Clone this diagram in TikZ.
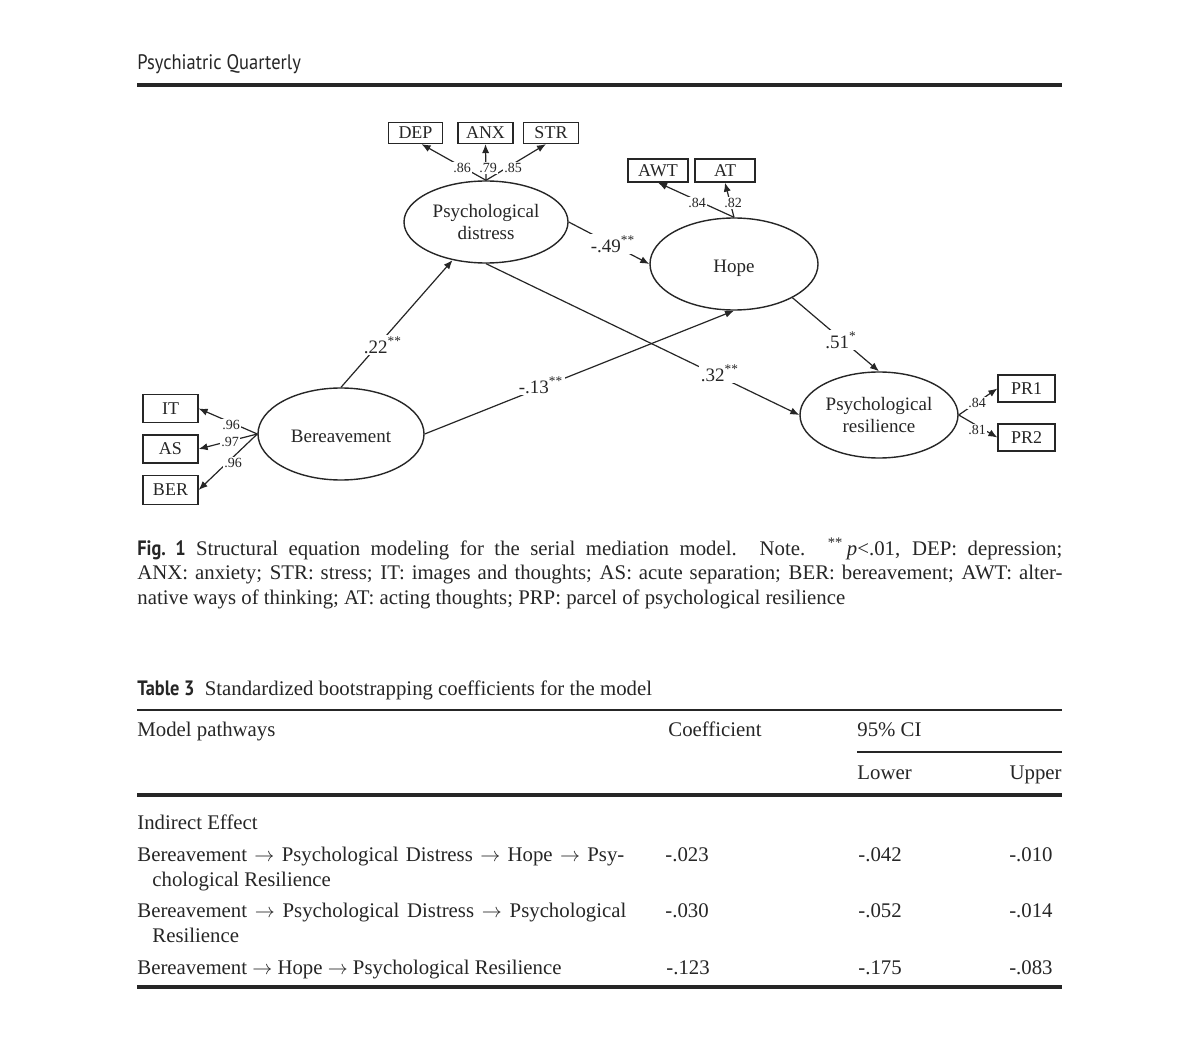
\documentclass[tikz,border=0pt]{standalone}
\usepackage{fontspec}
\setmainfont{Liberation Serif}
\newfontfamily\hdr[FakeStretch=0.88]{PT Sans}
\usetikzlibrary{shapes.geometric,arrows.meta,calc}
\definecolor{ink}{HTML}{262626}
\begin{document}
\begin{tikzpicture}[x=0.5pt,y=-0.5pt,
  every node/.style={text=ink},
  lat/.style={ellipse,draw=ink,line width=0.7pt,inner sep=0pt,align=center,font=\fontsize{9.5}{11}\selectfont},
  obs/.style={rectangle,draw=ink,line width=0.6pt,inner sep=0pt,font=\fontsize{9}{10}\selectfont},
  arr/.style={draw=ink,line width=0.6pt,-{Latex[length=4.5pt,width=3.6pt]}},
  coef/.style={fill=white,inner sep=1pt,font=\fontsize{9.5}{10}\selectfont},
  load/.style={fill=white,inner sep=0.6pt,font=\fontsize{7}{8}\selectfont},
  txt/.style={anchor=base west,inner sep=0pt,font=\fontsize{10.4}{12.5}\selectfont},
  txte/.style={anchor=base east,inner sep=0pt,font=\fontsize{10.4}{12.5}\selectfont},
  tabrule/.style={draw=ink,line width=1.4pt}
]
\fill[white] (0,0) rectangle (1200,1064);
\useasboundingbox (0,0) rectangle (1200,1064);

% header
\node[anchor=base west,inner sep=0pt,font=\hdr\fontsize{10.5}{12}\selectfont] (journal) at (137,70) {Psychiatric Quarterly};
\draw[ink,line width=2pt] (137,85) -- (1062,85);

% observed indicators
\node[obs,minimum width=27pt,minimum height=10.5pt] (dep) at (415.5,133) {DEP};
\node[obs,minimum width=27.5pt,minimum height=10.5pt] (anx) at (485.5,133) {ANX};
\node[obs,minimum width=27.5pt,minimum height=10.5pt] (str) at (551,133) {STR};
\node[obs,minimum width=30pt,minimum height=11.5pt] (awt) at (658,170.5) {AWT};
\node[obs,minimum width=30pt,minimum height=11.5pt] (atn) at (725,170.5) {AT};
\node[obs,minimum width=27.5pt,minimum height=14pt] (it) at (170.5,408.5) {IT};
\node[obs,minimum width=27.5pt,minimum height=14pt] (as) at (170.5,449) {AS};
\node[obs,minimum width=27.5pt,minimum height=14.5pt] (ber) at (170.5,490) {BER};
\node[obs,minimum width=28.5pt,minimum height=13.5pt] (pr1) at (1026.5,388.5) {PR1};
\node[obs,minimum width=28.5pt,minimum height=13.5pt] (pr2) at (1026.5,437.5) {PR2};

% latent variables
\node[lat,minimum width=82pt,minimum height=41pt] (dist) at (486,222) {Psychological\\distress};
\node[lat,minimum width=84pt,minimum height=46pt,text height=9pt,text depth=0pt] (hope) at (734,264) {Hope};
\node[lat,minimum width=83pt,minimum height=46pt,text height=8.5pt,text depth=0pt] (bere) at (341,434) {Bereavement};
\node[lat,minimum width=79pt,minimum height=43pt] (res) at (879,415) {Psychological\\resilience};

% structural paths
\draw[arr] (bere.north) -- (dist);
\draw[arr] (dist.east) -- (hope.west);
\draw[arr] (dist.south) -- (res.west);
\draw[arr] (bere.east) -- (hope.south);
\draw[arr] (hope.-30) -- (res.north);

\node[coef] (c22) at (383,345) {.22\textsuperscript{**}};
\node[coef] (c49) at (613,244) {-.49\textsuperscript{**}};
\node[coef] (c13) at (541,385) {-.13\textsuperscript{**}};
\node[coef] (c32) at (720,373) {.32\textsuperscript{**}};
\node[coef] (c51) at (841,340) {.51\textsuperscript{*}};

% measurement paths
\draw[arr] (dist.north) -- ($(dep.south)+(6,0)$);
\draw[arr] (dist.north) -- (anx.south);
\draw[arr] (dist.north) -- ($(str.south)+(-5,0)$);
\draw[arr] (hope.north) -- (awt.south);
\draw[arr] (hope.north) -- (atn.south);
\draw[arr] (bere.west) -- (it.east);
\draw[arr] (bere.west) -- (as.east);
\draw[arr] (bere.west) -- (ber.east);
\draw[arr] (res.east) -- (pr1.west);
\draw[arr] (res.east) -- (pr2.west);

\node[load] (l86) at (462,168) {.86};
\node[load] (l79) at (488,168) {.79};
\node[load] (l85) at (513,168) {.85};
\node[load] (l84a) at (697,203) {.84};
\node[load] (l82) at (733,203) {.82};
\node[load] (l96a) at (231,425) {.96};
\node[load] (l97) at (230,442) {.97};
\node[load] (l96b) at (233,463) {.96};
\node[load] (l84b) at (977,403) {.84};
\node[load] (l81) at (977,430) {.81};

% caption
\node[anchor=north west,inner sep=0pt,text width=462.5pt,align=justify,font=\fontsize{10.4}{12.25}\selectfont] (cap) at (137,538)
{{\hdr\bfseries Fig.~1}\hspace{0.5em}Structural equation modeling for the serial mediation model. Note. \textsuperscript{**}\,\textit{p}<.01, DEP: depression;\linebreak ANX: anxiety; STR: stress; IT: images and thoughts; AS: acute separation; BER: bereavement; AWT: alter-\linebreak native ways of thinking; AT: acting thoughts; PRP: parcel of psychological resilience};

% table
\node[txt] (tcap) at (137,695) {{\hdr\bfseries Table 3}\hspace{0.5em}Standardized bootstrapping coefficients for the model};
\draw[tabrule] (137,710) -- (1062,710);
\node[txt] (h1) at (137,736) {Model pathways};
\node[txt] (h2) at (668,736) {Coefficient};
\node[txt] (h3) at (857,736) {95\% CI};
\draw[ink,line width=0.9pt] (857,752) -- (1062,752);
\node[txt] (h4) at (857,779) {Lower};
\node[txte] (h5) at (1062,779) {Upper};
\draw[ink,line width=1.8pt] (137,795) -- (1062,795);

\node[txt] (ie) at (137,829) {Indirect Effect};
\node[txt] (r1a) at (137,861) {\makebox[243.5pt][s]{Bereavement $\rightarrow$ Psychological Distress $\rightarrow$ Hope $\rightarrow$ Psy-}};
\node[txt] (r1b) at (152,886) {chological Resilience};
\node[txt] (r1c) at (665,861) {-.023};
\node[txt] (r1d) at (858,861) {-.042};
\node[txte] (r1e) at (1053,861) {-.010};

\node[txt] (r2a) at (137,917) {\makebox[244.5pt][s]{Bereavement $\rightarrow$ Psychological Distress $\rightarrow$ Psychological}};
\node[txt] (r2b) at (152,942) {Resilience};
\node[txt] (r2c) at (665,917) {-.030};
\node[txt] (r2d) at (858,917) {-.052};
\node[txte] (r2e) at (1053,917) {-.014};

\node[txt] (r3a) at (137,974) {Bereavement $\rightarrow$ Hope $\rightarrow$ Psychological Resilience};
\node[txt] (r3c) at (666,974) {-.123};
\node[txt] (r3d) at (858,974) {-.175};
\node[txte] (r3e) at (1053,974) {-.083};
\draw[ink,line width=1.8pt] (137,987) -- (1062,987);
\end{tikzpicture}
\end{document}
